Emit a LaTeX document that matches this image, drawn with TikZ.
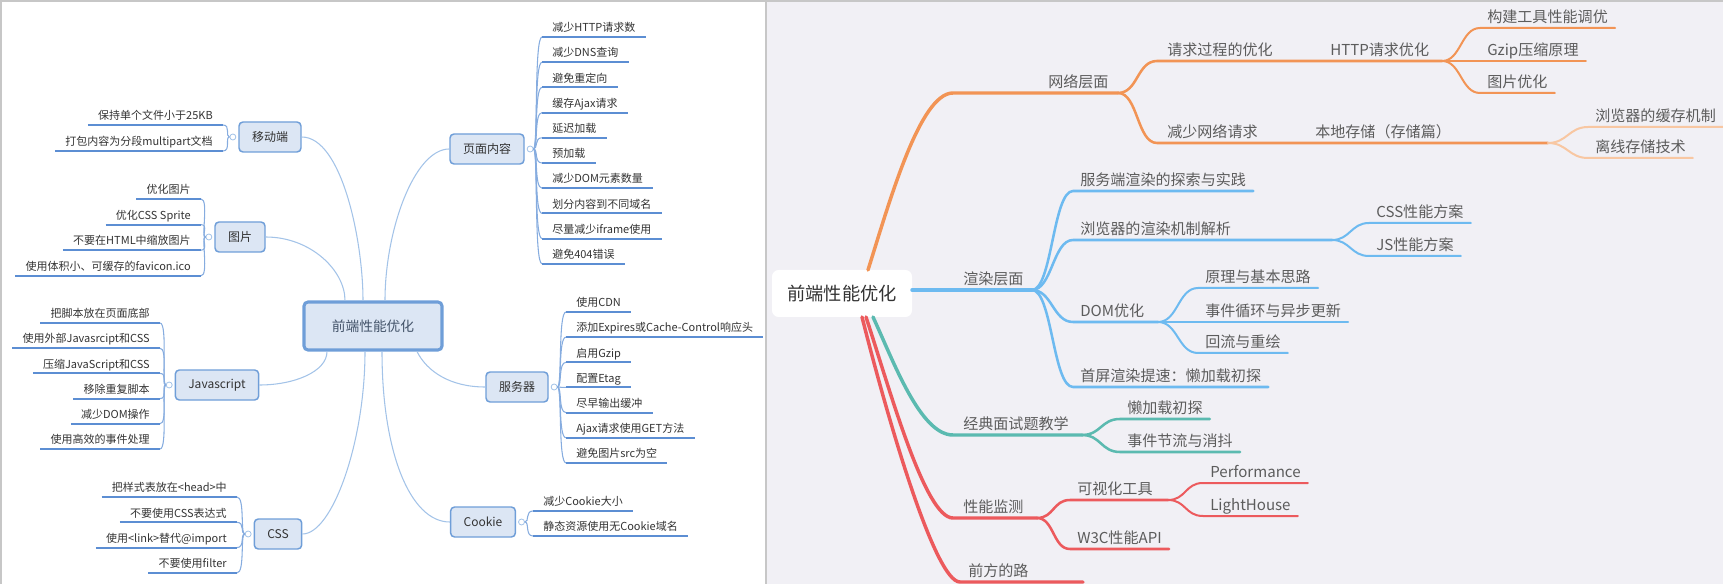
\documentclass[tikz,border=0pt]{standalone}
\usepackage{fontspec}
\setmainfont{Noto Sans CJK SC}
\usetikzlibrary{positioning,calc}
\definecolor{cPanel}{HTML}{F1F0F5}
\definecolor{cBoxFill}{HTML}{DCE6F4}
\definecolor{cBoxLine}{HTML}{6F9ED8}
\definecolor{cUline}{HTML}{5C8ED3}
\definecolor{cBrk}{HTML}{86ACDF}
\definecolor{cSpoke}{HTML}{A3C3E8}
\definecolor{cInk}{HTML}{333333}
\definecolor{cCore}{HTML}{44546A}
\definecolor{cLab}{HTML}{5C5C5C}
\definecolor{cNet}{HTML}{F29455}
\definecolor{cNetLt}{HTML}{F8C7A2}
\definecolor{cRen}{HTML}{6DBAF0}
\definecolor{cInt}{HTML}{5BBAB0}
\definecolor{cMon}{HTML}{EC5A5D}
\tikzset{
  box/.style={draw=cBoxLine, line width=1.1pt, fill=cBoxFill, rounded corners=3pt, minimum height=22.5pt,
    inner xsep=9.75pt, inner ysep=0pt, font=\fontsize{9}{11}\selectfont, text=cInk},
  centre/.style={box, line width=2.3pt, minimum width=103.5pt, minimum height=36pt, font=\fontsize{10.3}{12}\selectfont, text=cCore},
  knob/.style={circle, draw=cSpoke, fill=white, line width=0.6pt, minimum size=4.5pt, inner sep=0pt},
  leaf/.style={inner xsep=7.5pt, inner ysep=1.2pt, text depth=0.25em, font=\fontsize{8.25}{10}\selectfont, text=cInk},
  uline/.style={draw=cUline, line width=1.5pt},
  brk/.style={draw=cBrk, line width=0.8pt},
  spoke/.style={draw=cSpoke, line width=0.8pt},
  hub/.style={fill=white, rounded corners=5pt, minimum width=105pt, minimum height=35.25pt,
    font=\fontsize{13.7}{16}\selectfont, text=cInk},
  lab/.style={anchor=south west, inner xsep=5.25pt, inner ysep=1.1pt, text depth=0.3em,
    font=\fontsize{11.3}{13}\selectfont, text=cLab},
  lw-a/.style={line width=2.6pt, line cap=round},
  lw-b/.style={line width=1.9pt, line cap=round},
  lw-c/.style={line width=1.5pt, line cap=round},
  rim/.style={draw=black!22, line width=0.8pt},
}

\begin{document}
\begin{tikzpicture}[x=0.75pt, y=-0.75pt]
% pixel grid of the reference, y downwards
\useasboundingbox (0,0) rectangle (1723,584);
\fill[cPanel] (767,2) rectangle (1723,584);
\draw[rim] (1,584) -- (1,1) -- (1723,1);
\draw[rim] (766,1) -- (766,584);

% ==== left panel: boxed mind map
\node[centre] (core) at (373,326) {前端性能优化};
\node[box] (mob)  at (270,137) {移动端};
\node[box] (pic)  at (240,237) {图片};
\node[box] (js)   at (217,385) {Javascript};
\node[box] (css)  at (278,534) {CSS};
\node[box] (page) at (487,149) {页面内容};
\node[box] (srv)  at (517,387) {服务器};
\node[box] (ck)   at (483,522) {Cookie};

% ---- spokes from the centre
\draw[spoke] (mob.east) .. controls +(40,0) and +(0,-60) .. ($(core.north)+(-10,0)$);
\draw[spoke] (pic.east) .. controls +(45,0) and +(0,-30) .. ($(core.north)+(-28,0)$);
\draw[spoke] (page.west) .. controls +(-35,0) and +(0,-70) .. ($(core.north)+(12,0)$);
\draw[spoke] (js.east) .. controls +(35,0) and +(0,20) .. ($(core.south)+(-46,0)$);
\draw[spoke] (css.east) .. controls +(30,0) and +(0,90) .. ($(core.south)+(-8,0)$);
\draw[spoke] (ck.west) .. controls +(-40,0) and +(0,100) .. ($(core.south)+(9,0)$);
\draw[spoke] (srv.west) .. controls +(-35,0) and +(10,20) .. ($(core.south)+(44,0)$);

% ---- knobs beside the boxes
\node[knob, left=1.5pt of mob] (mobk) {};
\node[knob, left=1.5pt of pic] (pick) {};
\node[knob, left=1.5pt of js] (jsk) {};
\node[knob, left=1.5pt of css] (cssk) {};
\node[knob, right=1.5pt of page] (pagek) {};
\node[knob, right=1.5pt of srv] (srvk) {};
\node[knob, right=1.5pt of ck] (ckk) {};

% ---- leaves, left side
\foreach \txt [count=\i from 0] in {保持单个文件小于25KB,打包内容为分段multipart文档} {
  \node[leaf, anchor=south east] (mob-\i) at (223,{125+26*\i}) {\txt};
  \draw[brk] (mobk) .. controls +(-8,0) and +(8,0) .. (mob-\i.south east);
  \draw[uline] (mob-\i.south west) -- (mob-\i.south east);
}
\foreach \txt [count=\i from 0] in {优化图片,优化CSS Sprite,不要在HTML中缩放图片,使用体积小、可缓存的favicon.ico} {
  \node[leaf, anchor=south east] (pic-\i) at (201,{199+25.6*\i}) {\txt};
  \draw[brk] (pick) .. controls +(-8,0) and +(8,0) .. (pic-\i.south east);
  \draw[uline] (pic-\i.south west) -- (pic-\i.south east);
}
\foreach \txt [count=\i from 0] in {把脚本放在页面底部,使用外部Javasrcipt和CSS,压缩JavaScript和CSS,移除重复脚本,减少DOM操作,使用高效的事件处理} {
  \node[leaf, anchor=south east] (js-\i) at (160,{323+25.2*\i}) {\txt};
  \draw[brk] (jsk) .. controls +(-8,0) and +(8,0) .. (js-\i.south east);
  \draw[uline] (js-\i.south west) -- (js-\i.south east);
}
\foreach \txt [count=\i from 0] in {把样式表放在<head>中,不要使用CSS表达式,使用<link>替代@import,不要使用filter} {
  \node[leaf, anchor=south east] (css-\i) at (237,{497+25.3*\i}) {\txt};
  \draw[brk] (cssk) .. controls +(-8,0) and +(8,0) .. (css-\i.south east);
  \draw[uline] (css-\i.south west) -- (css-\i.south east);
}

% ---- leaves, right side
\foreach \txt [count=\i from 0] in {减少HTTP请求数,减少DNS查询,避免重定向,缓存Ajax请求,延迟加载,预加载,减少DOM元素数量,划分内容到不同域名,尽量减少iframe使用,避免404错误} {
  \node[leaf, anchor=south west] (page-\i) at (542,{37+25.2*\i}) {\txt};
  \draw[brk] (pagek) .. controls +(8,0) and +(-8,0) .. (page-\i.south west);
  \draw[uline] (page-\i.south west) -- (page-\i.south east);
}
\foreach \txt [count=\i from 0] in {使用CDN,添加Expires或Cache-Control响应头,启用Gzip,配置Etag,尽早输出缓冲,Ajax请求使用GET方法,避免图片src为空} {
  \node[leaf, anchor=south west] (srv-\i) at (566,{312+25.15*\i}) {\txt};
  \draw[brk] (srvk) .. controls +(8,0) and +(-8,0) .. (srv-\i.south west);
  \draw[uline] (srv-\i.south west) -- (srv-\i.south east);
}
\foreach \txt [count=\i from 0] in {减少Cookie大小,静态资源使用无Cookie域名} {
  \node[leaf, anchor=south west] (ck-\i) at (533,{511+25*\i}) {\txt};
  \draw[brk] (ckk) .. controls +(8,0) and +(-8,0) .. (ck-\i.south west);
  \draw[uline] (ck-\i.south west) -- (ck-\i.south east);
}

% ==== right panel: coloured branch map
\node[hub] (hub) at (842,293.5) {前端性能优化};

% ---- network (orange)
\coordinate (o0) at (868,270);
\coordinate (o1) at (953,93);
\coordinate (oS) at (1118,93);
\coordinate (oA) at (1157,61);
\coordinate (oAS) at (1442,61);
\coordinate (oB) at (1157,143);
\coordinate (oBS) at (1548,143);
\node[lab] (net)   at (1041,93)  {网络层面};
\node[lab] (req)   at (1160,61)  {请求过程的优化};
\node[lab] (http)  at (1323,61)  {HTTP请求优化};
\node[lab] (build) at (1480,28)  {构建工具性能调优};
\node[lab] (gzip)  at (1480,61)  {Gzip压缩原理};
\node[lab] (img)   at (1480,93)  {图片优化};
\node[lab] (less)  at (1160,143) {减少网络请求};
\node[lab] (store) at (1308,143) {本地存储（存储篇）};
\node[lab] (cache) at (1588,127) {浏览器的缓存机制};
\node[lab] (offl)  at (1588,158) {离线存储技术};
\draw[cNet, lw-a] (o0) .. controls (890,200) and (920,93) .. (o1) -- (oS);
\draw[cNet, lw-b] (oS) .. controls +(20,0) and +(-20,0) .. (oA) -- (oAS);
\draw[cNet, lw-b] (oS) .. controls +(20,0) and +(-20,0) .. (oB) -- (oBS);
\foreach \nm in {build,img} \draw[cNet, lw-c] (oAS) .. controls +(19,0) and +(-19,0) .. (\nm.south west) -- (\nm.south east);
\draw[cNet, lw-c] (oAS) -- (gzip.south east);
\foreach \nm in {cache,offl} \draw[cNetLt, lw-c] (oBS) .. controls +(19,0) and +(-19,0) .. (\nm.south west) -- (\nm.south east);

% ---- rendering (blue)
\coordinate (b0) at (912,290);
\coordinate (bS) at (1032,290);
\coordinate (bRS) at (1332,240);
\coordinate (bDS) at (1158,322);
\node[lab] (rend) at (956,290)  {渲染层面};
\node[lab] (ssr)  at (1073,191) {服务端渲染的探索与实践};
\node[lab] (brw)  at (1073,240) {浏览器的渲染机制解析};
\node[lab] (cssp) at (1369,223) {CSS性能方案};
\node[lab] (jsp)  at (1369,256) {JS性能方案};
\node[lab] (dom)  at (1073,322) {DOM优化};
\node[lab] (prin) at (1198,288) {原理与基本思路};
\node[lab] (loop) at (1198,322) {事件循环与异步更新};
\node[lab] (refl) at (1198,353) {回流与重绘};
\node[lab] (fst)  at (1073,387) {首屏渲染提速：懒加载初探};
\draw[cRen, lw-a] (b0) -- (bS);
\foreach \nm in {ssr,fst} \draw[cRen, lw-b] (bS) .. controls +(20,0) and +(-20,0) .. (\nm.south west) -- (\nm.south east);
\draw[cRen, lw-b] (bS) .. controls +(20,0) and +(-20,0) .. (brw.south west) -- (bRS);
\draw[cRen, lw-b] (bS) .. controls +(20,0) and +(-20,0) .. (dom.south west) -- (bDS);
\foreach \nm in {cssp,jsp} \draw[cRen, lw-c] (bRS) .. controls +(18,0) and +(-18,0) .. (\nm.south west) -- (\nm.south east);
\foreach \nm in {prin,refl} \draw[cRen, lw-c] (bDS) .. controls +(20,0) and +(-20,0) .. (\nm.south west) -- (\nm.south east);
\draw[cRen, lw-c] (bDS) -- (loop.south east);

% ---- interview (teal)
\coordinate (t0) at (873,317);
\coordinate (t1) at (953,435);
\coordinate (tS) at (1082,435);
\node[lab] (itv)  at (956,435)  {经典面试题教学};
\node[lab] (lazy) at (1120,419) {懒加载初探};
\node[lab] (thr)  at (1120,452) {事件节流与消抖};
\draw[cInt, lw-a] (t0) .. controls (893,360) and (920,435) .. (t1) -- (tS);
\foreach \nm in {lazy,thr} \draw[cInt, lw-b] (tS) .. controls +(19,0) and +(-19,0) .. (\nm.south west) -- (\nm.south east);

% ---- monitoring (red)
\coordinate (r0) at (866,317);
\coordinate (r1) at (953,518);
\coordinate (rS) at (1037,518);
\coordinate (rVS) at (1168,500);
\coordinate (r0b) at (862,317);
\coordinate (r2) at (960,582);
\coordinate (rE) at (1083,582);
\node[lab] (mon)  at (956,518)  {性能监测};
\node[lab] (vis)  at (1070,500) {可视化工具};
\node[lab] (perf) at (1203,483) {Performance};
\node[lab] (lh)   at (1203,516) {LightHouse};
\node[lab] (w3c)  at (1070,549) {W3C性能API};
\node[lab] (road) at (961,582)  {前方的路};
\draw[cMon, lw-a] (r0) .. controls (890,390) and (925,518) .. (r1) -- (rS);
\draw[cMon, lw-b] (rS) .. controls +(17,0) and +(-17,0) .. (vis.south west) -- (rVS);
\draw[cMon, lw-b] (rS) .. controls +(17,0) and +(-17,0) .. (w3c.south west) -- (w3c.south east);
\foreach \nm in {perf,lh} \draw[cMon, lw-c] (rVS) .. controls +(18,0) and +(-18,0) .. (\nm.south west) -- (\nm.south east);
\draw[cMon, lw-a] (r0b) .. controls (888,420) and (935,582) .. (r2) -- (rE);
\end{tikzpicture}
\end{document}
